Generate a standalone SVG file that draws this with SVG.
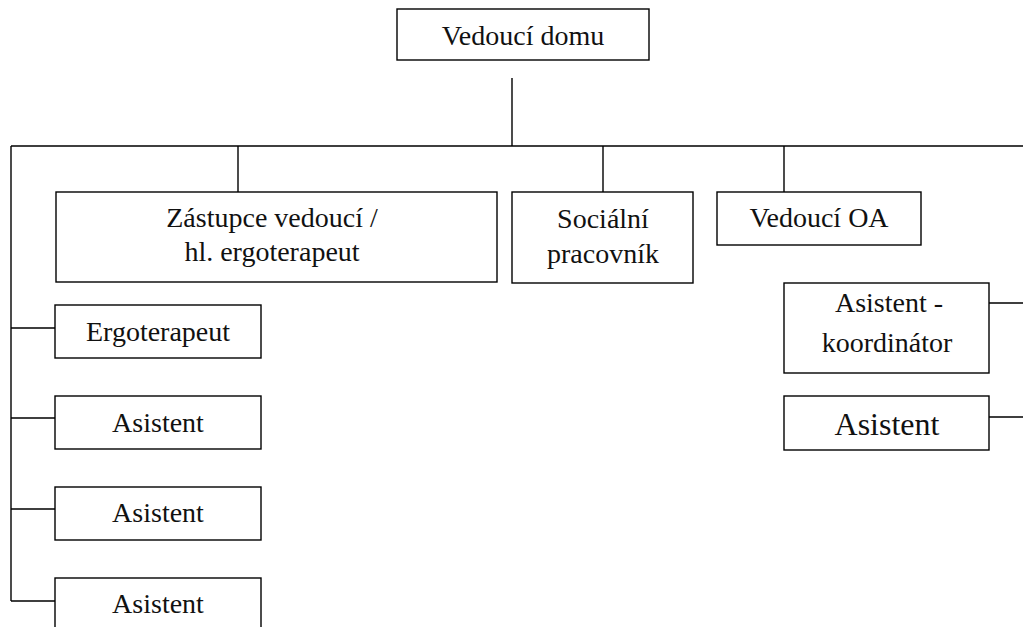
<svg xmlns="http://www.w3.org/2000/svg" width="1023" height="627" viewBox="0 0 1023 627">
<style>
.box{fill:#fff;stroke:#000;stroke-width:1.4}
.ln{fill:none;stroke:#000;stroke-width:1.4}
text{font-family:"Liberation Serif","Times New Roman",serif;font-size:28px;fill:#111;text-anchor:middle}
.big{font-size:32px}
</style>
<rect width="1023" height="627" fill="#fff"/>
<g id="connectors">
<path class="ln" d="M512,78V146M11,146H1023M238,146V192M603,146V192M784,146V192M11,146V601M11,328H55M11,418H55M11,509H55M11,601H55M989,303H1023M989,417H1023"/>
</g>
<g id="n-vedouci-domu"><rect class="box" x="397" y="9" width="252" height="51"/><text x="523" y="45">Vedoucí domu</text></g>
<g id="n-zastupce"><rect class="box" x="56" y="192" width="441" height="90"/><text x="272" y="227">Zástupce vedoucí /</text><text x="272" y="261">hl. ergoterapeut</text></g>
<g id="n-socialni"><rect class="box" x="512" y="192" width="181" height="91"/><text x="603" y="228">Sociální</text><text x="603" y="263">pracovník</text></g>
<g id="n-vedouci-oa"><rect class="box" x="717" y="192" width="204" height="53"/><text x="819" y="227">Vedoucí OA</text></g>
<g id="n-ergoterapeut"><rect class="box" x="55" y="305" width="206" height="53"/><text x="158" y="341">Ergoterapeut</text></g>
<g id="n-asistent-1"><rect class="box" x="55" y="396" width="206" height="53"/><text x="158" y="432">Asistent</text></g>
<g id="n-asistent-2"><rect class="box" x="55" y="487" width="206" height="53"/><text x="158" y="522">Asistent</text></g>
<g id="n-asistent-3"><rect class="box" x="55" y="578" width="206" height="60"/><text x="158" y="613">Asistent</text></g>
<g id="n-asistent-koordinator"><rect class="box" x="784" y="283" width="205" height="90"/><text x="889" y="312">Asistent -</text><text x="887" y="352">koordinátor</text></g>
<g id="n-asistent-r"><rect class="box" x="784" y="396" width="205" height="54"/><text class="big" x="887" y="435">Asistent</text></g>
</svg>
